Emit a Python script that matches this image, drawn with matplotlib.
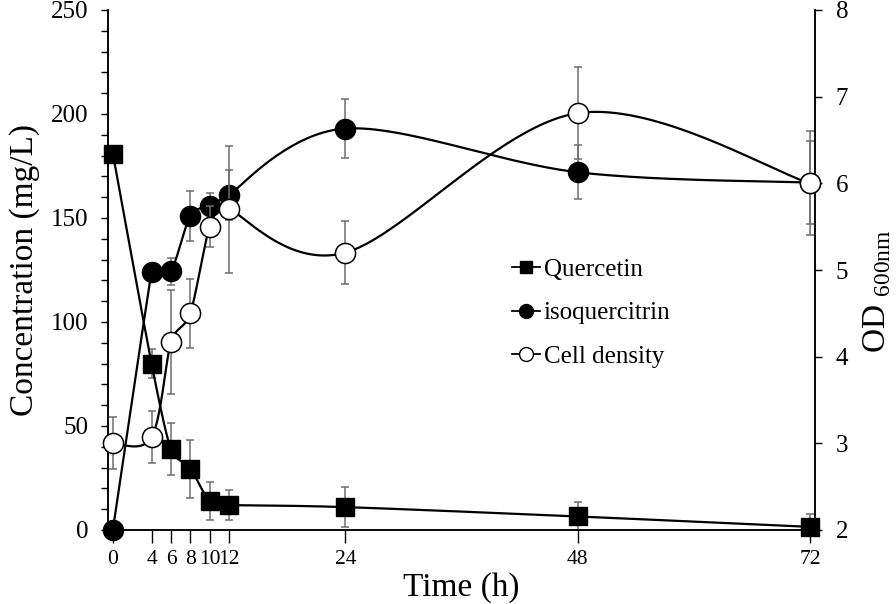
import numpy as np
import matplotlib
matplotlib.use('Agg')
import matplotlib.pyplot as plt
from matplotlib.ticker import MultipleLocator

plt.rcParams['font.family'] = ['Liberation Serif', 'DejaVu Serif']
plt.rcParams['mathtext.fontset'] = 'custom'
plt.rcParams['mathtext.rm'] = 'Liberation Serif'

time_h = [0, 4, 6, 8, 10, 12, 24, 48, 72]
quercetin = [181, 80, 39, 29.5, 14, 12, 11, 6.5, 1.5]
quercetin_err = [2, 7, 12.5, 14, 9, 7, 9.5, 7, 6]
isoquercitrin = [0, 124, 124.5, 151, 156, 161, 193, 172, 167]
isoquercitrin_err = [0, 2, 6.5, 12, 6, 12, 14, 13, 20]
cell_density = [3.0, 3.07, 4.17, 4.5, 5.5, 5.7, 5.2, 6.81, 6.0]
cell_density_err = [0.3, 0.3, 0.6, 0.4, 0.24, 0.73, 0.36, 0.53, 0.6]


def smooth(axis, x, y, n=40):
    # Excel-like smoothed line, worked out in pixel space so the
    # control arms can be kept shorter than half the nearest segment
    trans = axis.transData
    pts = trans.transform(np.column_stack([x, y]))
    m = len(pts)

    def arm(i):
        p0 = pts[max(i - 1, 0)]
        p1 = pts[i]
        p2 = pts[min(i + 1, m - 1)]
        d02 = np.hypot(*(p2 - p0))
        if d02 == 0:
            return np.zeros(2)
        d01 = np.hypot(*(p1 - p0))
        d12 = np.hypot(*(p2 - p1))
        f = 1 / 6
        short = min(d01, d12) if i not in (0, m - 1) else max(d01, d12)
        if d02 * f > short / 2:
            f = short / (2 * d02)
        return (p2 - p0) * f

    t = np.linspace(0, 1, n)[:, None]
    segs = []
    for i in range(m - 1):
        p1, p2 = pts[i], pts[i + 1]
        c1 = p1 + arm(i)
        c2 = p2 - arm(i + 1)
        b = ((1 - t) ** 3 * p1 + 3 * (1 - t) ** 2 * t * c1
             + 3 * (1 - t) * t ** 2 * c2 + t ** 3 * p2)
        segs.append(b)
    out = trans.inverted().transform(np.vstack(segs))
    return out[:, 0], out[:, 1]


fig = plt.figure(figsize=(8.96, 6.04), dpi=100)
ax = fig.add_axes([108 / 896, 74 / 604, 707 / 896, 520 / 604])
ax2 = ax.twinx()

ax.set_xlim(-0.5, 72.5)
ax.set_ylim(0, 250)
ax2.set_ylim(2, 8)

err_kw = dict(ecolor='#6e6e6e', elinewidth=1.1, capsize=3, capthick=1.1, fmt='none')

ax.errorbar(time_h, quercetin, yerr=quercetin_err, zorder=2, **err_kw)
ax.errorbar(time_h, isoquercitrin, yerr=isoquercitrin_err, zorder=2, **err_kw)
ax2.errorbar(time_h, cell_density, yerr=cell_density_err, zorder=2, **err_kw)

sx, sy = smooth(ax, time_h, quercetin)
ax.plot(sx, sy, color='black', lw=1.6, zorder=3)
sx, sy = smooth(ax, time_h, isoquercitrin)
ax.plot(sx, sy, color='black', lw=1.6, zorder=3)
sx, sy = smooth(ax2, time_h, cell_density)
ax2.plot(sx, sy, color='black', lw=1.6, zorder=3)

ax.plot(time_h, quercetin, ls='none', marker='s', ms=12.5, color='black', zorder=4, clip_on=False)
ax.plot(time_h, isoquercitrin, ls='none', marker='o', ms=14.5, color='black', zorder=4, clip_on=False)
ax2.plot(time_h, cell_density, ls='none', marker='o', ms=14.5, mfc='white', mec='black',
         mew=1.1, zorder=4, clip_on=False)

# legend proxies
h1, = ax.plot([], [], color='black', lw=1.3, marker='s', ms=9)
h2, = ax.plot([], [], color='black', lw=1.3, marker='o', ms=10)
h3, = ax.plot([], [], color='black', lw=1.3, marker='o', ms=10, mfc='white', mec='black')
ax.legend([h1, h2, h3], ['Quercetin', 'isoquercitrin', 'Cell density'],
          loc='upper left', bbox_to_anchor=(0.572, 0.523), frameon=False,
          fontsize=18, handlelength=1.1, handletextpad=0.15, labelspacing=0.85,
          borderpad=0, borderaxespad=0)

ax.set_xticks(time_h)
ax.set_xticklabels([str(t) for t in time_h])
ax.yaxis.set_major_locator(MultipleLocator(50))
ax.yaxis.set_minor_locator(MultipleLocator(10))
ax2.yaxis.set_major_locator(MultipleLocator(1))

ax.tick_params(axis='x', direction='out', length=9.5, width=1, pad=5, labelsize=15.5)
ax.tick_params(axis='y', which='both', direction='out', length=5, width=1, pad=9, labelsize=18)
ax2.tick_params(axis='y', direction='out', length=5, width=1, pad=10, labelsize=18)

for a in (ax, ax2):
    a.spines['top'].set_visible(False)
    for s in ('left', 'right', 'bottom'):
        a.spines[s].set_linewidth(1.1)

ax.set_xlabel('Time (h)', fontsize=24, labelpad=2)
ax.set_ylabel('Concentration (mg/L)', fontsize=24, labelpad=8)
ax2.set_ylabel(r'OD $_{\mathrm{600nm}}$', fontsize=24)
ax2.yaxis.set_label_coords(1.066, 0.46)

fig.savefig('out.png', dpi=100)
